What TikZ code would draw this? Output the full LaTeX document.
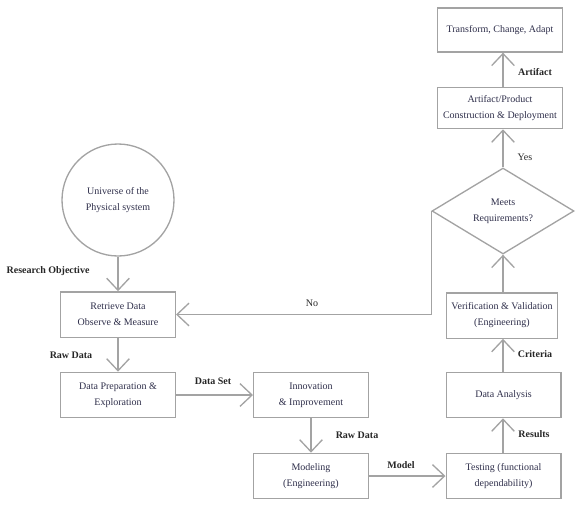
\documentclass[tikz,border=0pt]{standalone}
\usepackage{fontspec}
\setmainfont{Liberation Serif}
\usetikzlibrary{arrows.meta, positioning, shapes.geometric}
\definecolor{cgray}{HTML}{A3A3A3}
\definecolor{ctext}{HTML}{2E2E4A}
\tikzset{
  box/.style={draw=cgray, line width=1pt, minimum width=86pt, minimum height=34pt, align=center, text=ctext, font=\fontsize{7.5}{12}\selectfont},
  lbl/.style={text=black!85, font=\fontsize{7.5}{9}\selectfont\bfseries, inner sep=1pt},
  arr/.style={draw=cgray, line width=1pt, -{Straight Barb[length=9pt, width=17pt]}}
}

\begin{document}
\begin{tikzpicture}[x=0.75pt, y=-0.75pt]
  \useasboundingbox (0,0) rectangle (584,507);

  % left column
  \node[circle, draw=cgray, line width=1pt, minimum size=84pt, inner sep=0pt, align=center, text=ctext, font=\fontsize{7.5}{12}\selectfont] (universe) at (118,200) {Universe of the\\Physical system};
  \node[box] (retrieve) at (118,314.5) {Retrieve Data\\Observe \& Measure};
  \node[box] (prep) at (118,395) {Data Preparation \&\\Exploration};

  % middle column
  \node[box] (innov) at (311,395) {Innovation\\\& Improvement};
  \node[box] (model) at (311,476) {Modeling\\(Engineering)};

  % right column
  \node[box] (test) at (503.5,476) {Testing (functional\\dependability)};
  \node[box] (analysis) at (503.5,395) {Data Analysis};
  \node[box, minimum width=83pt] (verif) at (502,315.5) {Verification \& Validation\\(Engineering)};
  \node[diamond, draw=cgray, line width=1pt, minimum width=106.5pt, minimum height=64.5pt, aspect=1.65, inner sep=0pt, align=center, text=ctext, font=\fontsize{7.5}{12}\selectfont] (meets) at (503,211) {Meets\\Requirements?};
  \node[box, minimum width=94pt, minimum height=31pt] (artifact) at (500,108) {Artifact/Product\\Construction \& Deployment};
  \node[box, minimum width=94pt, minimum height=33pt] (transform) at (500,30) {Transform, Change, Adapt};

  % connectors
  \draw[arr] (universe) -- (retrieve);
  \draw[arr] (retrieve) -- (prep);
  \draw[arr] (prep) -- (innov);
  \draw[arr] (innov) -- (model);
  \draw[arr] (model) -- (test);
  \draw[arr] (test.north -| 503,0) -- (analysis.south -| 503,0);
  \draw[arr] (analysis.north -| 503,0) -- (verif.south -| 503,0);
  \draw[arr] (verif.north -| 503,0) -- (meets.south);
  \draw[arr] (meets.north) -- (artifact.south -| 503,0);
  \draw[arr] (artifact.north -| 503,0) -- (transform.south -| 503,0);
  \draw[arr] (meets.west) |- (retrieve.east);

  % edge labels
  \node[lbl, anchor=west] (lobj) at (5,271) {Research Objective};
  \node[lbl] (lraw1) at (71,355) {Raw Data};
  \node[lbl] (lset) at (213,381) {Data Set};
  \node[lbl] (lraw2) at (357,435) {Raw Data};
  \node[lbl] (lmodel) at (401,465) {Model};
  \node[lbl] (lres) at (534,434) {Results};
  \node[lbl] (lcrit) at (535,354) {Criteria};
  \node[lbl, font=\fontsize{7.5}{9}\selectfont] (lyes) at (525,157) {Yes};
  \node[lbl] (lart) at (535,72) {Artifact};
  \node[lbl, font=\fontsize{7.5}{9}\selectfont] (lno) at (312,303) {No};
\end{tikzpicture}
\end{document}
